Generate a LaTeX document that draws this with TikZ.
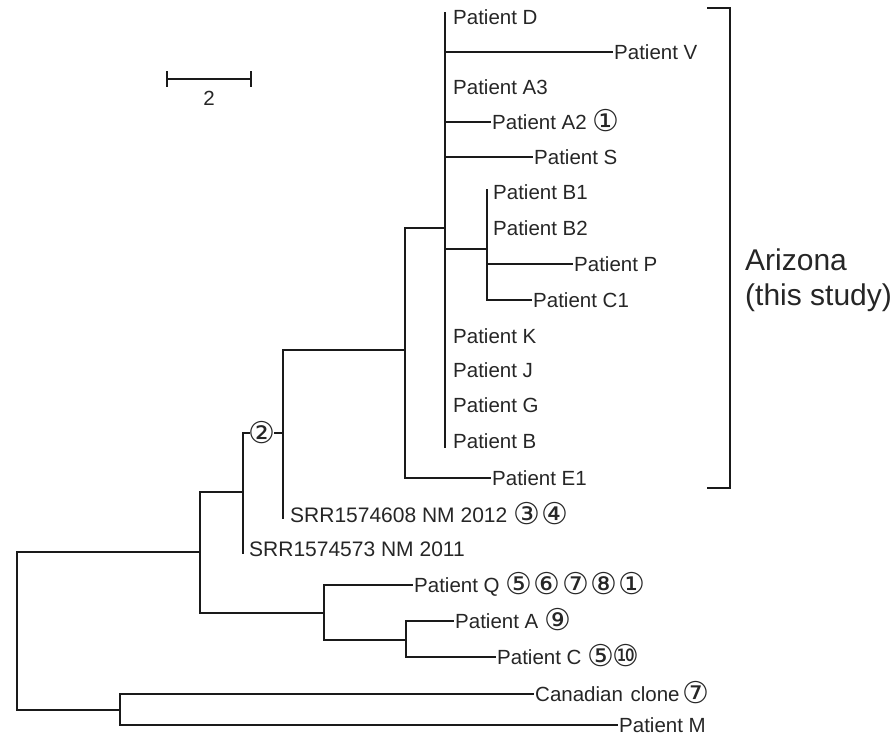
\documentclass[tikz,border=0pt]{standalone}
\usepackage{fontspec}
\setmainfont{Liberation Sans}
\newfontfamily\cfnt{DejaVu Sans}
\definecolor{lc}{HTML}{1A1A1A}
\definecolor{tc}{HTML}{262626}
\newcommand{\cn}[1]{{\cfnt\fontsize{30}{30}\selectfont\raisebox{-2pt}{#1}}}
\begin{document}
\begin{tikzpicture}[x=1pt,y=-1pt,
  br/.style={line width=2.9pt,draw=lc,line join=miter,line cap=rect},
  lab/.style={anchor=west,inner xsep=2pt,inner ysep=0pt,text height=14.6pt,text depth=0pt,
    font=\fontsize{20.5}{20.5}\selectfont,text=tc}]
\useasboundingbox (0,0) rectangle (894,735);
% internal nodes
\coordinate (n1) at (445,228);
\coordinate (n1t) at (445,13);
\coordinate (n1b) at (445,447);
\coordinate (nbb) at (487,249);
\coordinate (nbbt) at (487,190);
\coordinate (ne) at (405,350);
\coordinate (nd) at (283,433);
\coordinate (ndb) at (283,518);
\coordinate (nc) at (243,492);
\coordinate (ncb) at (243,553);
\coordinate (na) at (200,552);
\coordinate (nq) at (324,613);
\coordinate (nac) at (406,640);
\coordinate (nb) at (120,710);
\coordinate (root) at (17,631);
% leaves
\node[lab] (D) at (451,17) {Patient D};
\node[lab] (V) at (612,52) {Patient V};
\node[lab] (A3) at (451,87) {Patient A3};
\node[lab] (A2) at (490,122) {Patient A2 \cn{①}};
\node[lab] (S) at (532,157) {Patient S};
\node[lab] (B1) at (491,192) {Patient B1};
\node[lab] (B2) at (491,228) {Patient B2};
\node[lab] (P) at (572,264) {Patient P};
\node[lab] (C1) at (531,300) {Patient C1};
\node[lab] (K) at (451,336) {Patient K};
\node[lab] (J) at (451,370) {Patient J};
\node[lab] (G) at (451,405) {Patient G};
\node[lab] (PB) at (451,441) {Patient B};
\node[lab] (E1) at (490,478) {Patient E1};
\node[lab,font=\fontsize{21}{21}\selectfont] (S608) at (288,515) {SRR1574608 NM 2012 \cn{③}\hspace{1pt}\cn{④}};
\node[lab,font=\fontsize{21}{21}\selectfont] (S573) at (247,549) {SRR1574573 NM 2011};
\node[lab] (Q) at (412,585) {Patient Q \cn{⑤}\hspace{1.5pt}\cn{⑥}\hspace{1.5pt}\cn{⑦}\hspace{1.5pt}\cn{⑧}\hspace{1.5pt}\cn{①}};
\node[lab] (PA) at (453,621) {Patient A \cn{⑨}};
\node[lab] (PC) at (495,657) {Patient C \cn{⑤}\hspace{-2pt}\cn{⑩}};
\node[lab] (Can) at (533,694) {Canadian\hspace{2pt} clone\hspace{-3pt} \cn{⑦}};
\node[lab] (M) at (617,725) {Patient M};
\node[inner sep=0pt,text=tc,font=\cfnt\fontsize{30}{30}\selectfont] (c2) at (262,433) {②};
% branches
\draw[br] (n1t) -- (n1b);
\draw[br] (n1 |- V) -- (V.west);
\draw[br] (n1 |- A2) -- (A2.west);
\draw[br] (n1 |- S) -- (S.west);
\draw[br] (n1 |- nbb) -- (nbb);
\draw[br] (nbbt) -- (nbb |- C1) -- (C1.west);
\draw[br] (nbb |- P) -- (P.west);
\draw[br] (n1) -| (ne) |- (E1.west);
\draw[br] (ne) -| (nd) -- (ndb);
\draw[br] (nd) -- (c2.east);
\draw[br] (c2.west) -| (nc) -- (ncb);
\draw[br] (nc) -| (na) |- (nq);
\draw[br] (na) -| (root) |- (nb);
\draw[br] (Q.west) -| (nq) |- (nac);
\draw[br] (PA.west) -| (nac) |- (PC.west);
\draw[br] (Can.west) -| (nb) |- (M.west);
% scale bar
\coordinate (sl) at (167,79);
\coordinate (sr) at (251,79);
\draw[br,line width=2.5pt] (sl) -- (sr);
\draw[br,line width=2.5pt] ([yshift=7pt]sl) -- ([yshift=-7pt]sl);
\draw[br,line width=2.5pt] ([yshift=7pt]sr) -- ([yshift=-7pt]sr);
\node[text=tc,font=\fontsize{20.5}{20.5}\selectfont,inner sep=0pt] (sc) at (209,98) {2};
% bracket
\coordinate (bt) at (708,8);
\coordinate (bb) at (708,488);
\draw[br] (bt) -- ++(22,0) |- (bb);
\node[anchor=west,align=left,text=tc,inner sep=0pt,font=\fontsize{30}{35}\selectfont] (az) at (745,280) {Arizona\\(this study)};
\end{tikzpicture}
\end{document}
